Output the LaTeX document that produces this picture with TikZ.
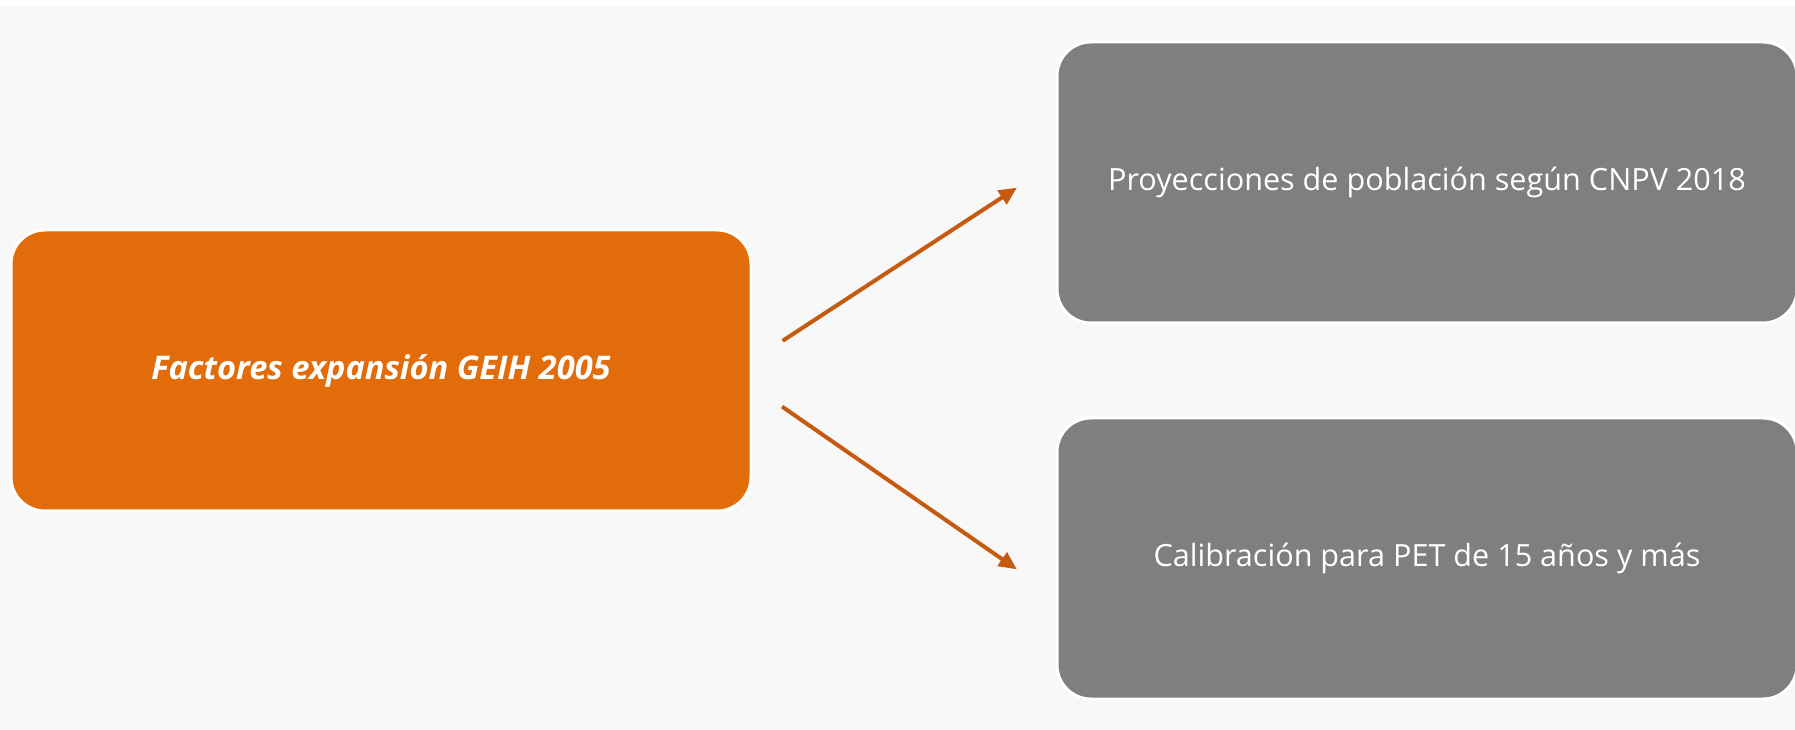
\documentclass[tikz,border=0pt]{standalone}
\usepackage{fontspec}
\setmainfont{Open Sans}
\usepackage{tikz}
\usetikzlibrary{arrows.meta, positioning}
\definecolor{naranja}{HTML}{E26C0A}
\definecolor{flecha}{HTML}{C55A11}
\definecolor{gris}{HTML}{7F7F7F}
\definecolor{fondo}{HTML}{F8F8F8}

\begin{document}
\begin{tikzpicture}[
        x=0.5pt, y=0.5pt,
        caja/.style={rectangle, rounded corners=17pt, draw=white, line width=1.5pt,
            minimum width=370pt, minimum height=140.5pt, inner sep=0pt, text=white},
        caja naranja/.style={caja, fill=naranja, font=\fontsize{16.3}{20}\selectfont\bfseries\itshape},
        caja gris/.style={caja, fill=gris, font=\fontsize{15.3}{18}\selectfont},
        flechita/.style={flecha, line width=2pt, -{Triangle[length=9pt, width=8pt]}}
    ]
        % fondo
        \useasboundingbox (0,0) rectangle (1795,729);
        \fill[white] (0,0) rectangle (1795,729);
        \fill[fondo] (0,0) rectangle (1795,723);

        % cajas
        \node [caja naranja] (factores) at (381,358.5) {Factores expansión GEIH 2005};
        \node [caja gris, right=151.5pt of factores, yshift=94pt] (proy) {Proyecciones de población según CNPV 2018};
        \node [caja gris, right=151.5pt of factores, yshift=-94pt] (calib) {Calibración para PET de 15 años y más};

        % flechas
        \draw[flechita, shorten <=18pt, shorten >=23pt] ([yshift=5pt]factores.east) -- ([yshift=10pt]proy.west);
        \draw[flechita, shorten <=18pt, shorten >=23.5pt] ([yshift=-7.8pt]factores.east) -- ([yshift=-18.8pt]calib.west);
    \end{tikzpicture}
\end{document}
